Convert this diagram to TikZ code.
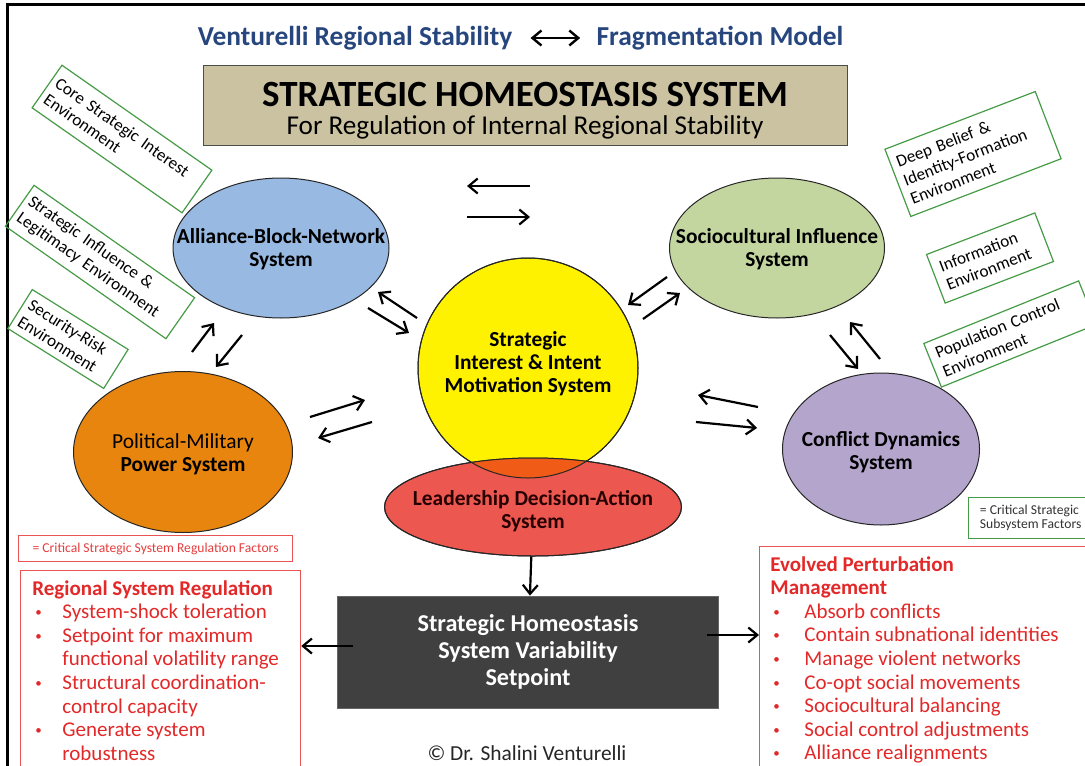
\documentclass[tikz,border=0pt]{standalone}
\usepackage{fontspec}
\setmainfont{Carlito}
\usetikzlibrary{shapes.geometric, arrows.meta}

\definecolor{titleblue}{RGB}{39,70,125}
\definecolor{tanbox}{RGB}{203,194,161}
\definecolor{allblue}{RGB}{151,185,226}
\definecolor{socgreen}{RGB}{196,214,160}
\definecolor{polorange}{RGB}{232,133,14}
\definecolor{confpurple}{RGB}{180,165,205}
\definecolor{leadred}{RGB}{236,88,80}
\definecolor{overlap}{RGB}{240,92,24}
\definecolor{darkbox}{RGB}{64,64,64}
\definecolor{critred}{RGB}{226,40,40}
\definecolor{envgreen}{RGB}{70,155,70}

\newcommand{\redbul}{\raisebox{1pt}{\fontsize{6.5}{6.5}\selectfont\textbullet}}

\begin{document}
\begin{tikzpicture}[x=0.5pt,y=-0.5pt,
  syst/.style={ellipse,draw=black!85,line width=0.5pt,inner sep=0pt},
  systxt/.style={align=center,inner sep=0pt,font=\fontsize{10.7}{11.5}\selectfont\bfseries},
  envbox/.style={draw=envgreen,line width=0.6pt,align=left,inner sep=2.5pt,font=\fontsize{8.6}{10}\selectfont},
  arr/.style={-{Straight Barb[length=4.5pt,width=7.5pt]},line width=1.1pt},
  redlist/.style={text=critred,align=left,anchor=north west,inner sep=0pt,font=\fontsize{10.5}{11.8}\selectfont}]
\useasboundingbox (0,0) rectangle (1085,765);
\draw[line width=1.5pt] (7,775) -- (7,5) -- (1095,5);%le cadre

% titre
\node[text=titleblue,font=\fontsize{13.7}{15}\selectfont\bfseries,inner sep=0pt] (vrs) at (355,38) {Venturelli Regional Stability};
\node[text=titleblue,font=\fontsize{13.7}{15}\selectfont\bfseries,inner sep=0pt] (frag) at (720,38) {Fragmentation Model};
\draw[{Straight Barb[length=4.5pt,width=7.5pt]}-{Straight Barb[length=4.5pt,width=7.5pt]},line width=1.2pt,shorten <=9pt,shorten >=8pt] (vrs) -- (frag);

\node[draw=black!70,fill=tanbox,minimum width=322pt,minimum height=40pt] (hdr) at (525,105) {};
\node[font=\fontsize{18.5}{20}\selectfont\bfseries] (hdrA) at (525,94) {STRATEGIC HOMEOSTASIS SYSTEM};
\node[font=\fontsize{13.6}{15}\selectfont] (hdrB) at (525,127) {For Regulation of Internal Regional Stability};

% les systemes
\node[syst,fill=allblue,minimum width=108pt,minimum height=70pt] (alliance) at (281,248) {};
\node[syst,fill=socgreen,minimum width=107.5pt,minimum height=70pt] (socio) at (777,248) {};
\node[syst,fill=polorange,minimum width=109.5pt,minimum height=80.5pt] (polmil) at (183,452) {};
\node[syst,fill=confpurple,minimum width=98.5pt,minimum height=76pt] (conflict) at (881,449) {};
\node[syst,fill=yellow,minimum width=110pt,minimum height=110pt] (motiv) at (528,368) {};
\node[syst,fill=leadred,minimum width=148.5pt,minimum height=49pt] (lead) at (533,507) {};
\begin{scope}
\clip (528,368) circle (110);
\fill[overlap] (533,507) ellipse (148.5 and 49);
\end{scope}
\draw[black!85,line width=0.5pt] (528,368) circle (110);
\draw[black!85,line width=0.5pt] (533,507) ellipse (148.5 and 49);

\node[systxt] (alliancetxt) at (281,249) {Alliance-Block-Network\\System};
\node[systxt] (sociotxt) at (777,249) {Sociocultural Influence\\System};
\node[systxt] (polmiltxt) at (183,454) {\mdseries Political-Military\\Power System};
\node[systxt] (conflicttxt) at (881,452) {Conflict Dynamics\\System};
\node[systxt] (motivtxt) at (528,364) {Strategic\\Interest \& Intent\\Motivation System};
\node[systxt,text=black!85!red] (leadtxt) at (533,511) {Leadership Decision-Action\\System};

% fleches doubles
\draw[arr] (530,186) -- (467,186);
\draw[arr] (467,217) -- (530,217);
\draw[arr] (417,318) -- (378,292);
\draw[arr] (368,308) -- (409,333);
\draw[arr] (667,277) -- (628,305);
\draw[arr] (643,319) -- (680,293);
\draw[arr] (310,417) -- (365,400);
\draw[arr] (372,422) -- (318,438);
\draw[arr] (758,407) -- (698,395);
\draw[arr] (696,422) -- (757,428);
\draw[arr] (192,352) -- (214,323);
\draw[arr] (242,335) -- (216,367);
\draw[arr] (830,335) -- (858,369);
\draw[arr] (880,359) -- (850,322);

% environnements
\node[envbox,rotate=-35,minimum width=91.5pt,minimum height=26pt,text width=86pt] (envcore) at (122,139) {Core Strategic Interest\\Environment};
\node[envbox,rotate=-35,minimum width=98pt,minimum height=25pt,text width=93pt] (envinfl) at (100,262) {Strategic Influence \&\\Legitimacy Environment};
\node[envbox,rotate=-32,minimum width=56.5pt,minimum height=23pt,text width=51pt] (envsec) at (68,339) {Security-Risk\\Environment};
\node[envbox,rotate=21,minimum width=80.5pt,minimum height=36pt,text width=74pt] (envbelief) at (973,154) {Deep Belief \&\\Identity-Formation\\Environment};
\node[envbox,rotate=21,minimum width=58pt,minimum height=26pt,text width=50pt] (envinfo) at (990,258) {Information\\Environment};
\node[envbox,rotate=22,minimum width=83.5pt,minimum height=23.5pt,text width=76pt] (envpop) at (1010,334) {Population Control\\Environment};
\node[draw=envgreen,line width=0.6pt,anchor=north west,minimum width=62pt,minimum height=20.5pt,align=left,inner sep=3pt,font=\fontsize{6.8}{7.2}\selectfont,text=black!80] (critsub) at (968,497) {= Critical Strategic\\Subsystem Factors};

% setpoint
\node[fill=darkbox,draw=black!60,minimum width=190.5pt,minimum height=56pt,text=white,align=center,font=\fontsize{12.1}{13.5}\selectfont\bfseries] (setpt) at (528,652) {Strategic Homeostasis\\System Variability\\Setpoint};
\draw[arr] (lead) -- (setpt);

% regulation
\node[draw=critred!80,line width=0.6pt,anchor=north west,minimum width=137pt,minimum height=13pt,inner sep=0pt,text=critred!90,font=\fontsize{6.8}{7.5}\selectfont] (critreg) at (18,535) {= Critical Strategic System Regulation Factors};
\node[draw=critred!80,line width=0.6pt,anchor=north west,minimum width=140pt,minimum height=110pt,inner sep=0pt] (regbox) at (20,570) {};
\node[redlist] (regtxt) at (32,580) {{\bfseries Regional System Regulation}\\
\makebox[15pt][l]{\hspace{1.5pt}\redbul}System-shock toleration\\
\makebox[15pt][l]{\hspace{1.5pt}\redbul}Setpoint for maximum\\
\hspace*{15pt}functional volatility range\\
\makebox[15pt][l]{\hspace{1.5pt}\redbul}Structural coordination-\\
\hspace*{15pt}control capacity\\
\makebox[15pt][l]{\hspace{1.5pt}\redbul}Generate system\\
\hspace*{15pt}robustness};

\node[draw=critred!80,line width=0.6pt,anchor=north west,minimum width=163pt,minimum height=120pt,inner sep=0pt] (pertbox) at (759,546) {};
\node[redlist] (perttxt) at (770,556) {{\bfseries Evolved Perturbation}\\
{\bfseries Management}\\
\makebox[17pt][l]{\hspace{1.5pt}\redbul}Absorb conflicts\\
\makebox[17pt][l]{\hspace{1.5pt}\redbul}Contain subnational identities\\
\makebox[17pt][l]{\hspace{1.5pt}\redbul}Manage violent networks\\
\makebox[17pt][l]{\hspace{1.5pt}\redbul}Co-opt social movements\\
\makebox[17pt][l]{\hspace{1.5pt}\redbul}Sociocultural balancing\\
\makebox[17pt][l]{\hspace{1.5pt}\redbul}Social control adjustments\\
\makebox[17pt][l]{\hspace{1.5pt}\redbul}Alliance realignments};

\coordinate (la) at ([xshift=8pt,yshift=3pt]setpt.west);
\draw[arr] (la) -- (la -| regbox.east);
\coordinate (ra) at ([xshift=-6pt,yshift=8.5pt]setpt.east);
\draw[arr] (ra) -- (ra -| pertbox.west);

\node[font=\fontsize{10.7}{12}\selectfont,text=black!85] (copy) at (527,753) {© Dr. Shalini Venturelli};
\end{tikzpicture}
\end{document}
